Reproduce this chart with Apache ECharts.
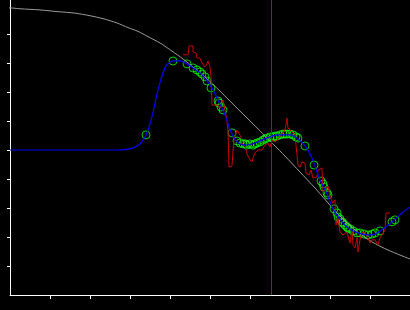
<!DOCTYPE html>
<html>
<head>
<meta charset="utf-8">
<script src="https://cdn.jsdelivr.net/npm/echarts@6/dist/echarts.min.js"></script>
<style>html,body{margin:0;padding:0;background:#000;}#c{width:410px;height:310px;}</style>
</head>
<body>
<div id="c"></div>
<script>
// Tick positions
var xTicks = [1, 2, 3, 4, 5, 6, 7, 8, 9];
var yTicks = [1, 2, 3, 4, 5, 6, 7, 8, 9];
var markerX = 6.53;

// Gray reference curve
var grayX = [-0.25, 0, 0.25, 0.75, 1.2, 1.625, 2.0, 2.325, 2.675, 2.95, 3.2, 3.45, 3.75, 4.05, 4.325, 4.6, 4.875, 5.25, 5.7, 6.25, 6.875, 7.25, 7.625, 8.2, 8.625, 9.05, 9.45, 10.0];
var grayY = [9.90, 9.90, 9.87, 9.83, 9.77, 9.72, 9.63, 9.53, 9.38, 9.22, 9.09, 8.91, 8.69, 8.41, 8.14, 7.83, 7.52, 7.03, 6.41, 5.66, 4.79, 4.24, 3.69, 2.79, 2.24, 1.83, 1.55, 1.24];

// Blue fitted curve
var blueX = [0, 1.25, 2.675, 2.95, 3.125, 3.25, 3.4, 3.5, 3.6, 3.7, 3.8, 3.9, 4.0, 4.075, 4.25, 4.425, 4.575, 4.75, 4.875, 5.05, 5.2, 5.375, 5.525, 5.675, 5.875, 6.125, 6.425, 6.7, 7.0, 7.175, 7.375, 7.55, 7.75, 7.925, 8.075, 8.3, 8.45, 8.7, 8.95, 9.125, 9.25, 9.55, 9.8, 10.0];
var blueY = [5.0, 5.0, 5.0, 5.03, 5.10, 5.21, 5.52, 5.90, 6.45, 7.07, 7.55, 7.90, 8.03, 8.07, 8.07, 7.97, 7.83, 7.66, 7.48, 7.14, 6.72, 6.21, 5.62, 5.28, 5.17, 5.24, 5.41, 5.52, 5.52, 5.41, 5.14, 4.72, 3.97, 3.48, 2.97, 2.52, 2.31, 2.14, 2.07, 2.10, 2.21, 2.52, 2.83, 3.03];

// Red noisy measurement
var redX = [4.325, 4.45, 4.475, 4.575, 4.575, 4.65, 4.675, 4.75, 4.8, 4.875, 4.925, 4.95, 5.0, 5.025, 5.05, 5.2, 5.25, 5.325, 5.375, 5.425, 5.45, 5.475, 5.55, 5.575, 5.6, 5.675, 5.725, 5.775, 5.8, 5.875, 5.925, 5.975, 6.0, 6.05, 6.075, 6.125, 6.2, 6.3, 6.375, 6.45, 6.5, 6.55, 6.625, 6.75, 6.825, 6.875, 6.925, 6.95, 7.05, 7.125, 7.175, 7.2, 7.25, 7.3, 7.375, 7.4, 7.475, 7.525, 7.575, 7.675, 7.7, 7.8, 7.825, 7.875, 7.95, 8.0, 8.075, 8.125, 8.15, 8.2, 8.25, 8.325, 8.425, 8.5, 8.55, 8.575, 8.625, 8.675, 8.7, 8.75, 8.8, 8.875, 8.95, 9.0, 9.05, 9.125, 9.2, 9.25, 9.3, 9.375, 9.4, 9.5];
var redY = [8.28, 8.28, 8.59, 8.59, 8.38, 8.34, 8.17, 8.17, 8.0, 7.86, 7.97, 8.07, 7.86, 7.52, 6.55, 6.55, 6.45, 6.72, 6.38, 6.0, 5.66, 4.41, 4.45, 5.0, 5.34, 5.69, 5.69, 5.45, 5.24, 5.14, 4.86, 4.90, 4.66, 4.59, 4.72, 4.90, 5.0, 5.0, 5.17, 5.24, 5.10, 5.34, 5.28, 5.45, 5.59, 5.69, 6.10, 5.76, 5.62, 5.52, 5.48, 4.48, 4.41, 4.59, 4.55, 4.21, 4.14, 4.31, 4.03, 4.07, 4.31, 4.38, 3.55, 3.52, 3.76, 3.38, 3.17, 3.28, 2.41, 2.66, 2.17, 2.07, 2.17, 1.79, 2.24, 1.72, 1.62, 1.97, 1.48, 1.90, 2.17, 2.14, 1.97, 1.79, 1.90, 1.90, 1.72, 1.97, 2.07, 2.24, 2.83, 2.83];

// Green circle samples
var circX = [3.4, 4.075, 4.425, 4.575, 4.675, 4.75, 4.8, 4.875, 4.925, 5.025, 5.2, 5.225, 5.275, 5.325, 5.55, 5.675, 5.75, 5.825, 5.875, 5.925, 6.0, 6.075, 6.125, 6.175, 6.25, 6.325, 6.375, 6.425, 6.5, 6.575, 6.625, 6.675, 6.75, 6.825, 6.875, 6.925, 7.0, 7.075, 7.15, 7.2, 7.375, 7.6, 7.775, 7.825, 7.85, 7.925, 7.95, 8.1, 8.175, 8.2, 8.25, 8.3, 8.325, 8.375, 8.425, 8.45, 8.5, 8.575, 8.675, 8.75, 8.85, 8.95, 9.05, 9.125, 9.25, 9.55, 9.625];
var circY = [5.52, 8.07, 7.97, 7.83, 7.76, 7.69, 7.62, 7.52, 7.38, 7.14, 6.69, 6.62, 6.48, 6.38, 5.59, 5.31, 5.24, 5.21, 5.21, 5.17, 5.21, 5.17, 5.21, 5.24, 5.28, 5.34, 5.38, 5.41, 5.45, 5.45, 5.48, 5.48, 5.52, 5.55, 5.55, 5.55, 5.55, 5.52, 5.45, 5.41, 5.14, 4.48, 3.93, 3.83, 3.72, 3.52, 3.45, 2.97, 2.83, 2.69, 2.62, 2.52, 2.48, 2.41, 2.34, 2.31, 2.28, 2.21, 2.14, 2.14, 2.10, 2.07, 2.10, 2.14, 2.21, 2.52, 2.59];

function zip(a, b) { return a.map(function (v, i) { return [v, b[i]]; }); }

var chart = echarts.init(document.getElementById('c'), null, { renderer: 'canvas' });
chart.setOption({
  backgroundColor: '#000000',
  animation: false,
  grid: { left: 10, right: 0, top: 0, bottom: 15, containLabel: false },
  xAxis: {
    type: 'value', min: 0, max: 10,
    axisLine: { show: true, onZero: false, lineStyle: { color: '#ffffff', width: 1 } },
    axisTick: { show: true, length: 4, customValues: xTicks, lineStyle: { color: '#ffffff', width: 1 } },
    axisLabel: { show: false },
    splitLine: { show: false }
  },
  yAxis: {
    type: 'value', min: 0, max: 295 / 29,
    axisLine: { show: true, onZero: false, lineStyle: { color: '#ffffff', width: 1 } },
    axisTick: { show: true, length: 3, customValues: yTicks, lineStyle: { color: '#ffffff', width: 1 } },
    axisLabel: { show: false },
    splitLine: { show: false }
  },
  series: [
    {
      type: 'line', data: zip(grayX, grayY), smooth: 0.25, showSymbol: false, clip: false,
      lineStyle: { color: '#9a9a9a', width: 1 },
      markLine: {
        silent: true, symbol: ['none', 'none'], label: { show: false },
        lineStyle: { color: '#8a0a8a', width: 1, type: 'solid' },
        data: [{ xAxis: markerX }]
      }
    },
    {
      type: 'line', data: zip(redX, redY), showSymbol: false,
      lineStyle: { color: '#cc0000', width: 1 }
    },
    {
      type: 'line', data: zip(blueX, blueY), smooth: 0.3, showSymbol: false,
      lineStyle: { color: '#0000ff', width: 1.2 }
    },
    {
      type: 'scatter', data: zip(circX, circY), symbol: 'circle', symbolSize: 8,
      itemStyle: { color: 'rgba(0,0,0,0)', borderColor: '#00ff00', borderWidth: 1 }
    }
  ]
});
</script>
</body>
</html>
